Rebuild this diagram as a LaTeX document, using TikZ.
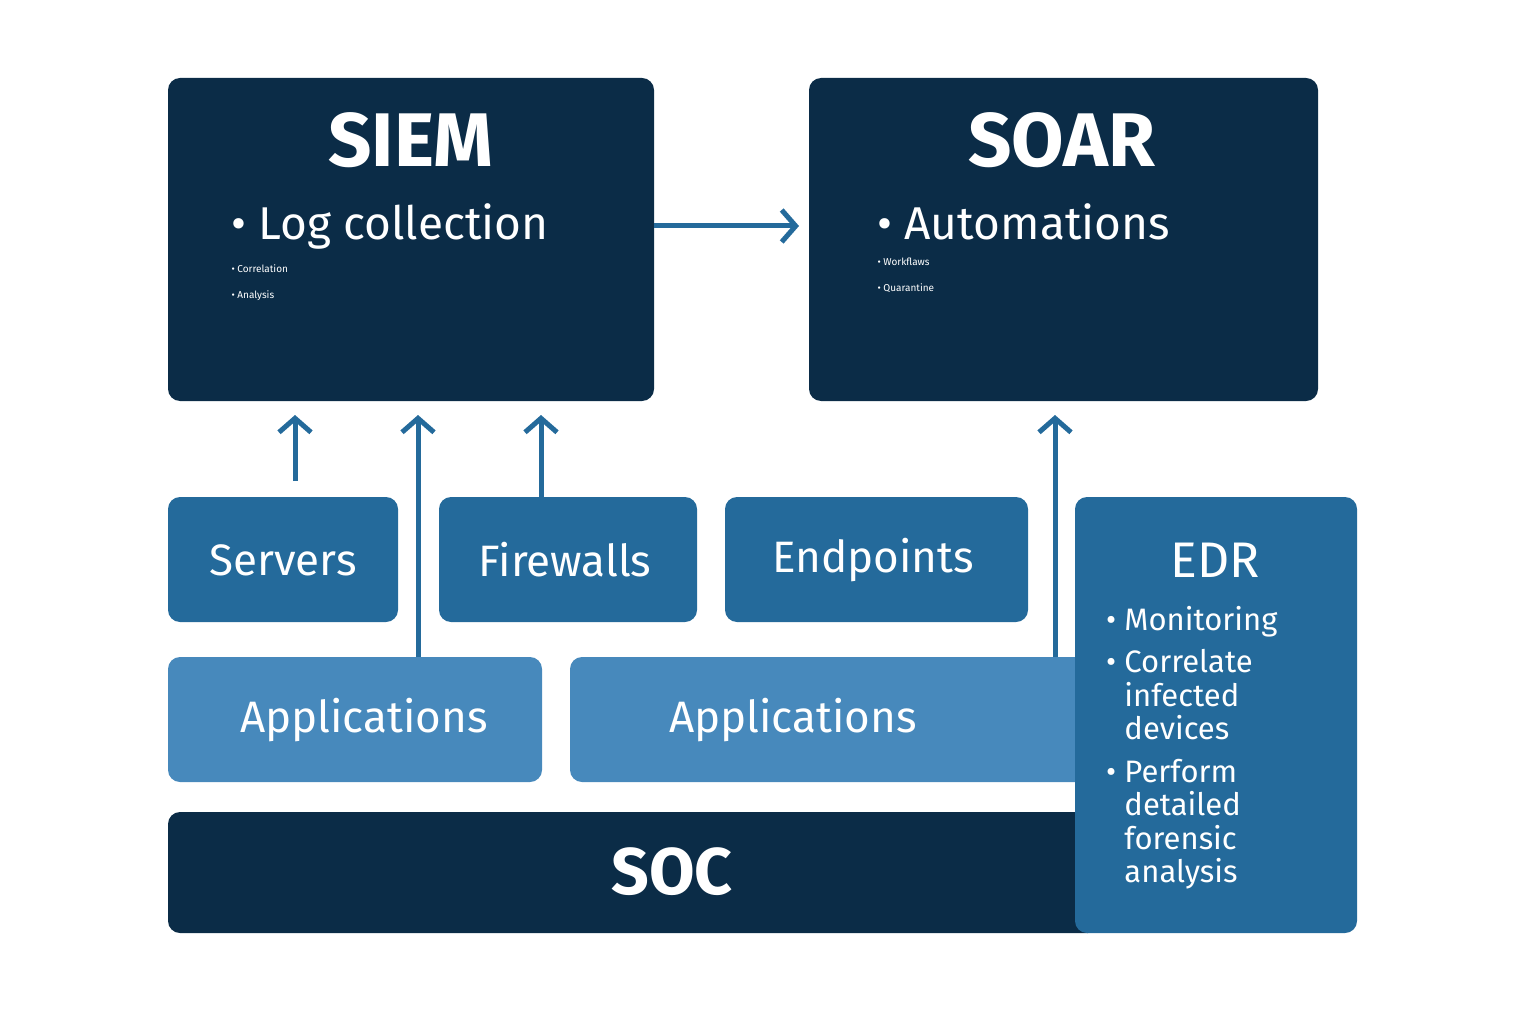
\documentclass[tikz,border=0pt]{standalone}
\usepackage{fontspec}
\setmainfont{Fira Sans}
\usetikzlibrary{arrows.meta}
\definecolor{navy}{HTML}{0B2C47}
\definecolor{midblue}{HTML}{246A9B}
\definecolor{lightblue}{HTML}{4789BC}
\tikzset{
  box/.style={rounded corners=12pt, text=white, inner sep=0pt},
  arr/.style={draw=midblue, line width=5pt, -{Straight Barb[length=14pt,width=32pt,line width=5pt]}},
}
\newcommand{\fs}[1]{\fontsize{#1}{#1}\selectfont}
\begin{document}
\begin{tikzpicture}[x=1pt,y=-1pt]
\useasboundingbox (0,0) rectangle (1536,1024);

% top boxes
\fill[navy, rounded corners=12pt] (168,78) rectangle (654,401);
\fill[navy, rounded corners=12pt] (809,78) rectangle (1318,401);
\node[box, text=white] (siem) at (411,140) {\fs{76}\textbf{SIEM}};
\node[box, text=white] (soar) at (1062,140) {\fs{76}\textbf{SOAR}};
\node[text=white, anchor=north west, align=left] (siemlist) at (228,200)
  {\fs{46}\textbullet\ Log collection\\[14pt]\textbullet\ Correlation\\[14pt]\textbullet\ Analysis};
\node[text=white, anchor=north west, align=left] (soarlist) at (874,200)
  {\fs{46}\textbullet\ Automations\\[14pt]\textbullet\ Workflaws\\[14pt]\textbullet\ Quarantine};
\coordinate (siemR) at (654,226);
\coordinate (soarL) at (799,226);

% sources
\fill[midblue, rounded corners=12pt] (168,497) rectangle (398,622);
\fill[midblue, rounded corners=12pt] (439,497) rectangle (697,622);
\fill[midblue, rounded corners=12pt] (725,497) rectangle (1028,622);
\node[box] (servers) at (283,560) {\fs{44}Servers};
\node[box] (firewalls) at (565,560) {\fs{44}Firewalls};
\node[box] (endpoints) at (873,560) {\fs{44}Endpoints};

% applications and soc
\fill[lightblue, rounded corners=12pt] (168,657) rectangle (542,782);
\fill[lightblue, rounded corners=12pt] (570,657) rectangle (1100,782);
\fill[navy, rounded corners=12pt] (168,812) rectangle (1100,933);
\node[box] (apps1) at (364,720) {\fs{44}Applications};
\node[box] (apps2) at (793,720) {\fs{44}Applications};
\node[box] (soc) at (672,872) {\fs{66}\textbf{SOC}};

% edr
\fill[midblue, rounded corners=12pt] (1075,497) rectangle (1357,933);
\node[box] (edr) at (1215,560) {\fs{50}EDR};
\node[text=white, anchor=north west, align=left, inner sep=0pt] (edrlist) at (1106,606)
  {\fs{31}\begin{tabular}{@{}l@{\ }l@{}}
   \textbullet & Monitoring\\[10pt]
   \textbullet & Correlate\\ & infected\\ & devices\\[10pt]
   \textbullet & Perform\\ & detailed\\ & forensic\\ & analysis
  \end{tabular}};

% arrows
\coordinate (up1) at (295,415);
\coordinate (up2) at (418,415);
\coordinate (up3) at (541,415);
\coordinate (up4) at (1055,415);
\draw[arr] (siemR) -- (soarL);
\draw[arr] (servers.north -| up1) ++(0,-63) -- (up1);
\draw[arr] (418,657) -- (up2);
\draw[arr] (541,497) -- (up3);
\draw[arr] (1055,657) -- (up4);
\end{tikzpicture}
\end{document}
